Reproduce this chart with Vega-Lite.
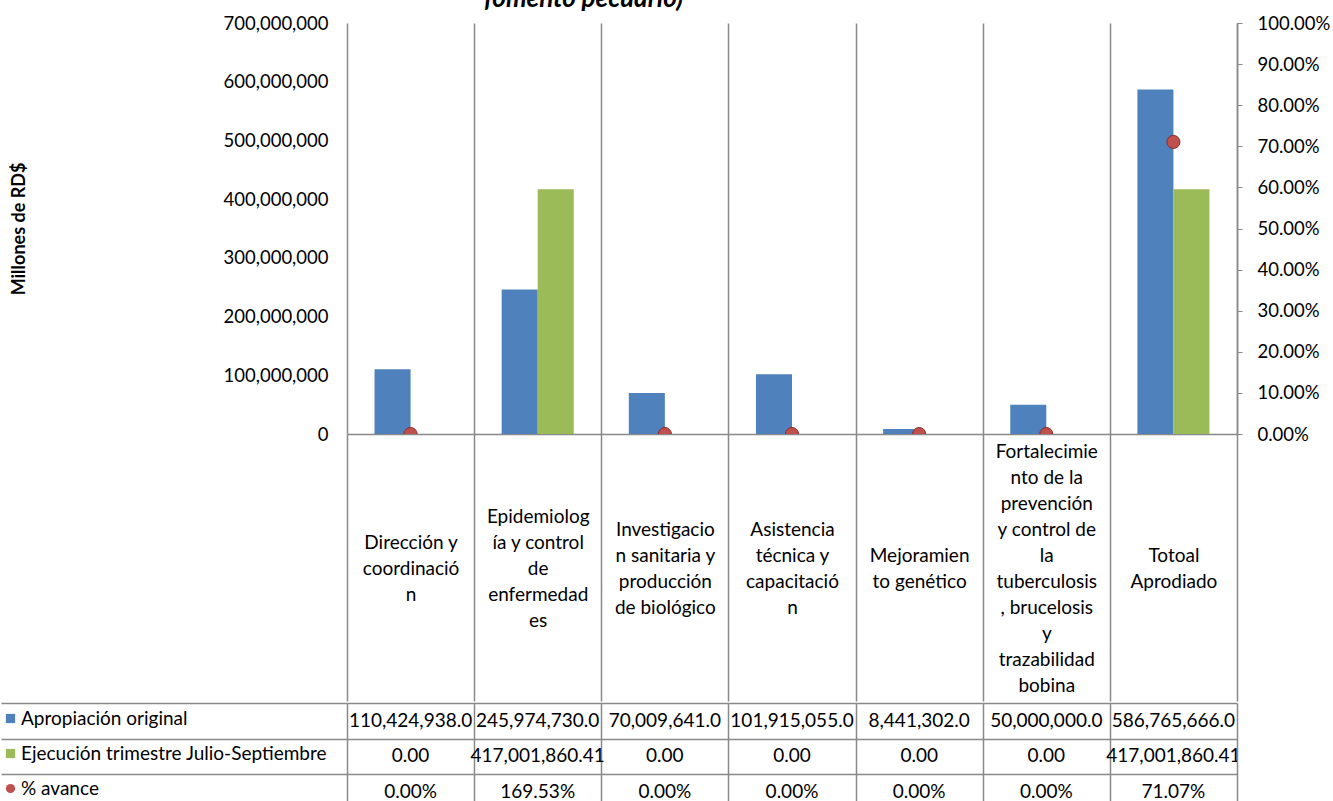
{
  "$schema": "https://vega.github.io/schema/vega-lite/v6.json",
  "padding": {"left": 0, "top": -14, "right": 0, "bottom": 0},
  "spacing": 0,
  "config": {
    "font": "Lato",
    "view": {"stroke": null},
    "axis": {"labelColor": "#000000", "titleColor": "#000000"}
  },
  "data": {
    "values": [
      {"categoria": "Dirección y coordinación", "serie": "Apropiación  original", "valor": 110424938.0},
      {"categoria": "Epidemiología y control de enfermedades", "serie": "Apropiación  original", "valor": 245974730.0},
      {"categoria": "Investigacion sanitaria y producción de biológico", "serie": "Apropiación  original", "valor": 70009641.0},
      {"categoria": "Asistencia técnica y capacitación", "serie": "Apropiación  original", "valor": 101915055.0},
      {"categoria": "Mejoramiento genético", "serie": "Apropiación  original", "valor": 8441302.0},
      {"categoria": "Fortalecimiento de la prevención y control de la tuberculosis, brucelosis y trazabilidad bobina", "serie": "Apropiación  original", "valor": 50000000.0},
      {"categoria": "Totoal Aprodiado", "serie": "Apropiación  original", "valor": 586765666.0},
      {"categoria": "Dirección y coordinación", "serie": "Ejecución trimestre Julio-Septiembre", "valor": 0},
      {"categoria": "Epidemiología y control de enfermedades", "serie": "Ejecución trimestre Julio-Septiembre", "valor": 417001860.41},
      {"categoria": "Investigacion sanitaria y producción de biológico", "serie": "Ejecución trimestre Julio-Septiembre", "valor": 0},
      {"categoria": "Asistencia técnica y capacitación", "serie": "Ejecución trimestre Julio-Septiembre", "valor": 0},
      {"categoria": "Mejoramiento genético", "serie": "Ejecución trimestre Julio-Septiembre", "valor": 0},
      {"categoria": "Fortalecimiento de la prevención y control de la tuberculosis, brucelosis y trazabilidad bobina", "serie": "Ejecución trimestre Julio-Septiembre", "valor": 0},
      {"categoria": "Totoal Aprodiado", "serie": "Ejecución trimestre Julio-Septiembre", "valor": 417001860.41},
      {"categoria": "Dirección y coordinación", "serie": "% avance", "valor": 0},
      {"categoria": "Epidemiología y control de enfermedades", "serie": "% avance", "valor": 1.6953},
      {"categoria": "Investigacion sanitaria y producción de biológico", "serie": "% avance", "valor": 0},
      {"categoria": "Asistencia técnica y capacitación", "serie": "% avance", "valor": 0},
      {"categoria": "Mejoramiento genético", "serie": "% avance", "valor": 0},
      {"categoria": "Fortalecimiento de la prevención y control de la tuberculosis, brucelosis y trazabilidad bobina", "serie": "% avance", "valor": 0},
      {"categoria": "Totoal Aprodiado", "serie": "% avance", "valor": 0.7107}
    ]
  },
  "resolve": {"scale": {"x": "independent", "y": "independent"}},
  "vconcat": [
    {
      "width": 890,
      "height": 411,
      "title": {"text": "fomento pecuario)", "fontSize": 26, "fontWeight": "bold", "fontStyle": "italic", "anchor": "start", "frame": "group", "dx": 137, "offset": 2, "color": "#000000"},
      "layer": [
        {
          "transform": [{"filter": "datum.serie != '% avance'"}],
          "mark": {"type": "bar"},
          "encoding": {
            "x": {
              "field": "categoria", "type": "nominal", "sort": null,
              "scale": {"paddingInner": 0, "paddingOuter": 0},
              "axis": {
                "orient": "bottom", "title": null,
                "domain": true, "domainColor": "#898989", "domainWidth": 1.5,
                "ticks": true, "tickSize": 267, "tickBand": "extent", "tickColor": "#898989", "tickWidth": 1.5,
                "grid": true, "gridColor": "#898989", "gridWidth": 1.5,
                "labelAngle": 0, "labelFontSize": 19, "labelLineHeight": 13, "labelBaseline": "middle", "labelAlign": "center",
                "labelPadding": -249.5, "labelLimit": 0, "labelOverlap": false, "labelBound": false,
                "labelExpr": "datum.value == 'Dirección y coordinación' ? ['\u200b','\u200b','\u200b','\u200b','\u200b','\u200b','\u200b','Dirección y','\u200b','coordinació','\u200b','n'] : datum.value == 'Epidemiología y control de enfermedades' ? ['\u200b','\u200b','\u200b','\u200b','\u200b','Epidemiolog','\u200b','ía y control','\u200b','de','\u200b','enfermedad','\u200b','es'] : datum.value == 'Investigacion sanitaria y producción de biológico' ? ['\u200b','\u200b','\u200b','\u200b','\u200b','\u200b','Investigacio','\u200b','n sanitaria y','\u200b','producción','\u200b','de biológico'] : datum.value == 'Asistencia técnica y capacitación' ? ['\u200b','\u200b','\u200b','\u200b','\u200b','\u200b','Asistencia','\u200b','técnica y','\u200b','capacitació','\u200b','n'] : datum.value == 'Mejoramiento genético' ? ['\u200b','\u200b','\u200b','\u200b','\u200b','\u200b','\u200b','\u200b','Mejoramien','\u200b','to genético'] : datum.value == 'Totoal Aprodiado' ? ['\u200b','\u200b','\u200b','\u200b','\u200b','\u200b','\u200b','\u200b','Totoal','\u200b','Aprodiado'] : datum.value == 'Fortalecimiento de la prevención y control de la tuberculosis, brucelosis y trazabilidad bobina' ? ['Fortalecimie','\u200b','nto de la','\u200b','prevención','\u200b','y control de','\u200b','la','\u200b','tuberculosis','\u200b',', brucelosis','\u200b','y','\u200b','trazabilidad','\u200b','bobina'] : ''"
              }
            },
            "xOffset": {
              "field": "serie", "type": "nominal", "sort": null,
              "scale": {"domain": ["Apropiación  original", "Ejecución trimestre Julio-Septiembre"], "paddingInner": 0, "paddingOuter": 0.764}
            },
            "y": {
              "field": "valor", "type": "quantitative",
              "scale": {"domain": [0, 700000000], "nice": false},
              "axis": {
                "orient": "left", "values": [0, 100000000, 200000000, 300000000, 400000000, 500000000, 600000000, 700000000],
                "format": ",.0f", "domain": false, "ticks": false, "grid": false,
                "labelFontSize": 18.5, "labelPadding": 19,
                "title": "Millones de RD$", "titleFontSize": 18, "titleFontWeight": "bold", "titlePadding": 195
              }
            },
            "color": {
              "field": "serie", "type": "nominal",
              "scale": {"domain": ["Apropiación  original", "Ejecución trimestre Julio-Septiembre", "% avance"], "range": ["#4F81BD", "#9BBB59", "#C0504D"]},
              "legend": {
                "orient": "none", "legendX": -346, "legendY": 686, "title": null, "padding": 0,
                "labelFontSize": 19, "labelColor": "#000000", "labelLimit": 400, "labelOffset": 1,
                "symbolSize": 85, "rowPadding": 15, "symbolStrokeWidth": 0, "symbolOpacity": 1
              }
            }
          }
        },
        {
          "transform": [{"filter": "datum.serie == '% avance'"}],
          "mark": {"type": "point", "filled": true, "clip": true, "size": 170, "opacity": 1, "stroke": "#8B2A27", "strokeWidth": 1},
          "encoding": {
            "x": {"field": "categoria", "type": "nominal", "sort": null},
            "y": {
              "field": "valor", "type": "quantitative",
              "scale": {"domain": [0, 1], "nice": false},
              "axis": {
                "orient": "right", "values": [0, 0.1, 0.2, 0.3, 0.4, 0.5, 0.6, 0.7, 0.8, 0.9, 1],
                "format": ".2%", "domain": true, "domainColor": "#898989", "domainWidth": 1.5,
                "ticks": true, "tickSize": 5, "tickColor": "#898989", "grid": false,
                "labelFontSize": 18.5, "labelPadding": 15, "title": null
              }
            },
            "color": {"field": "serie", "type": "nominal"},
            "shape": {
              "field": "serie", "type": "nominal",
              "scale": {"domain": ["Apropiación  original", "Ejecución trimestre Julio-Septiembre", "% avance"], "range": ["square", "square", "circle"]}
            }
          }
        }
      ],
      "resolve": {"scale": {"y": "independent"}}
    },
    {
      "width": 890,
      "height": 106.5,
      "encoding": {
        "x": {
          "field": "categoria", "type": "nominal", "sort": null,
          "scale": {"paddingInner": 0, "paddingOuter": 0},
          "axis": {"orient": "top", "labels": false, "ticks": false, "domain": false, "grid": true, "tickBand": "extent", "gridColor": "#898989", "gridWidth": 1.5, "title": null}
        },
        "y": {
          "field": "serie", "type": "nominal",
          "scale": {"domain": ["Apropiación  original", "Ejecución trimestre Julio-Septiembre", "% avance"], "paddingInner": 0, "paddingOuter": 0},
          "axis": {"labels": false, "ticks": true, "tickSize": 346, "tickBand": "extent", "tickColor": "#898989", "tickWidth": 1.5, "grid": true, "gridColor": "#898989", "gridWidth": 1.5, "domain": false, "title": null}
        }
      },
      "layer": [
        {
          "transform": [{"filter": "datum.serie == 'Apropiación  original'"}],
          "mark": {"type": "text", "fontSize": 19, "color": "#000000", "clip": true},
          "encoding": {"text": {"field": "valor", "type": "quantitative", "format": ",.1f"}}
        },
        {
          "transform": [{"filter": "datum.serie == 'Ejecución trimestre Julio-Septiembre'"}],
          "mark": {"type": "text", "fontSize": 19, "color": "#000000", "clip": true},
          "encoding": {"text": {"field": "valor", "type": "quantitative", "format": ",.2f"}}
        },
        {
          "transform": [{"filter": "datum.serie == '% avance'"}],
          "mark": {"type": "text", "fontSize": 19, "color": "#000000", "clip": true},
          "encoding": {"text": {"field": "valor", "type": "quantitative", "format": ".2%"}}
        }
      ]
    }
  ]
}
